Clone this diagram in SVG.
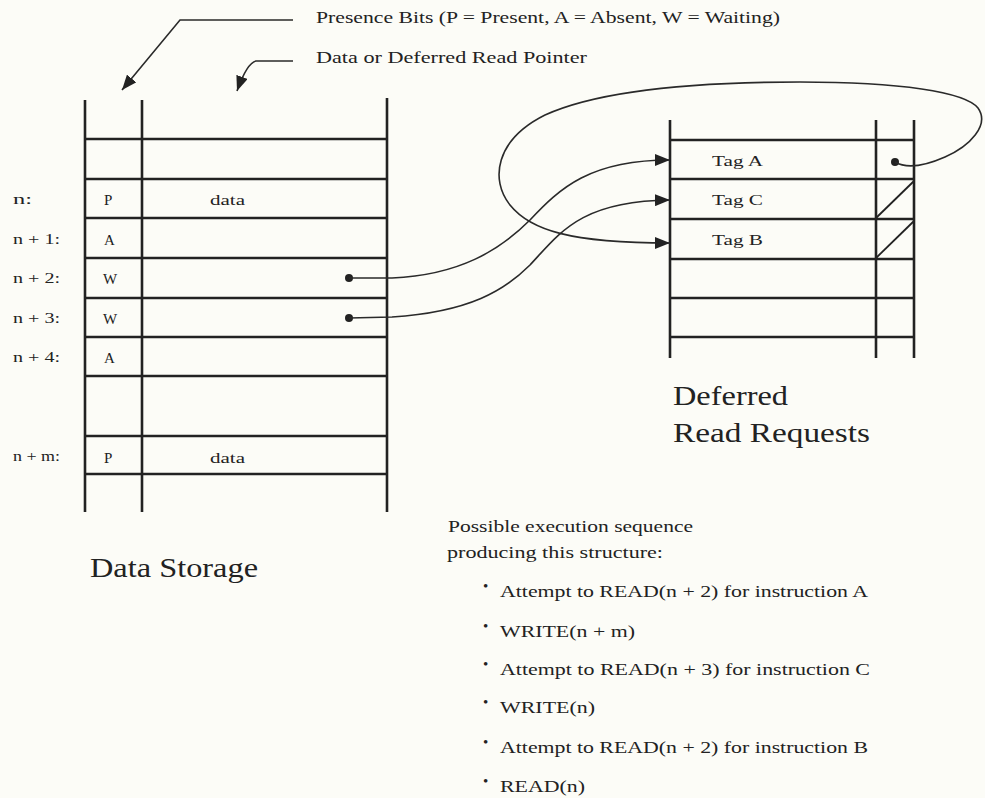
<svg xmlns="http://www.w3.org/2000/svg" width="985" height="798" viewBox="0 0 985 798">
<defs>
<style>
.bg{fill:#fcfcf7}
.tl{stroke:#222;stroke-width:2.6;fill:none;stroke-linecap:butt}
.cv{stroke:#2a2a2a;stroke-width:1.6;fill:none}
.dot{fill:#222}
text{font-family:"Liberation Serif","Times New Roman",serif;fill:#222}
.hd{font-size:17px}
.lb{font-size:15px}
.big{font-size:27px}
.it{font-size:17px}
.bul{font-size:15px}
</style>
<marker id="ah" viewBox="0 0 15 12" refX="15" refY="6" markerWidth="15" markerHeight="12" markerUnits="userSpaceOnUse" orient="auto">
<path d="M0,0 L15,6 L0,12 Z" fill="#222"/>
</marker>
</defs>
<rect class="bg" x="0" y="0" width="985" height="798"/>

<g id="legend">
<text class="hd" x="316" y="23" textLength="464" lengthAdjust="spacingAndGlyphs">Presence Bits (P = Present, A = Absent, W = Waiting)</text>
<text class="hd" x="316" y="63" textLength="271" lengthAdjust="spacingAndGlyphs">Data or Deferred Read Pointer</text>
</g>

<g id="data-storage">
<g class="tl">
<line x1="85" y1="100" x2="85" y2="512"/>
<line x1="142" y1="100" x2="142" y2="512"/>
<line x1="387" y1="98" x2="387" y2="512"/>
<line x1="85" y1="139" x2="387" y2="139"/>
<line x1="85" y1="179" x2="387" y2="179"/>
<line x1="85" y1="218" x2="387" y2="218"/>
<line x1="85" y1="258" x2="387" y2="258"/>
<line x1="85" y1="298" x2="387" y2="298"/>
<line x1="85" y1="337" x2="387" y2="337"/>
<line x1="85" y1="376" x2="387" y2="376"/>
<line x1="85" y1="436" x2="387" y2="436"/>
<line x1="85" y1="474" x2="387" y2="474"/>
</g>
<text class="lb" x="13" y="204" textLength="19" lengthAdjust="spacingAndGlyphs">n:</text>
<text class="lb" x="13" y="244" textLength="47" lengthAdjust="spacingAndGlyphs">n + 1:</text>
<text class="lb" x="13" y="283" textLength="47" lengthAdjust="spacingAndGlyphs">n + 2:</text>
<text class="lb" x="13" y="323" textLength="47" lengthAdjust="spacingAndGlyphs">n + 3:</text>
<text class="lb" x="13" y="362" textLength="47" lengthAdjust="spacingAndGlyphs">n + 4:</text>
<text class="lb" x="13" y="461" textLength="47" lengthAdjust="spacingAndGlyphs">n + m:</text>
<text class="lb" x="104" y="205">P</text>
<text class="lb" x="104" y="245">A</text>
<text class="lb" x="103" y="284">W</text>
<text class="lb" x="103" y="324">W</text>
<text class="lb" x="104" y="363">A</text>
<text class="lb" x="104" y="463">P</text>
<text class="lb" x="210" y="205" textLength="35" lengthAdjust="spacingAndGlyphs">data</text>
<text class="lb" x="210" y="463" textLength="35" lengthAdjust="spacingAndGlyphs">data</text>
<circle class="dot" cx="349" cy="278" r="4"/>
<circle class="dot" cx="349" cy="318" r="4"/>
<text class="big" x="90" y="577" textLength="168" lengthAdjust="spacingAndGlyphs">Data Storage</text>
</g>

<g id="deferred-read-requests">
<g class="tl">
<line x1="670" y1="120" x2="670" y2="358"/>
<line x1="876" y1="120" x2="876" y2="358"/>
<line x1="914" y1="120" x2="914" y2="358"/>
<line x1="670" y1="140" x2="914" y2="140"/>
<line x1="670" y1="179" x2="914" y2="179"/>
<line x1="670" y1="219" x2="914" y2="219"/>
<line x1="670" y1="259" x2="914" y2="259"/>
<line x1="670" y1="298" x2="914" y2="298"/>
<line x1="670" y1="337" x2="914" y2="337"/>
</g>
<line x1="876" y1="218" x2="914" y2="181" stroke="#222" stroke-width="1.8"/>
<line x1="876" y1="258" x2="914" y2="221" stroke="#222" stroke-width="1.8"/>
<text class="lb" x="712" y="166" textLength="51" lengthAdjust="spacingAndGlyphs">Tag A</text>
<text class="lb" x="712" y="205" textLength="51" lengthAdjust="spacingAndGlyphs">Tag C</text>
<text class="lb" x="712" y="245" textLength="51" lengthAdjust="spacingAndGlyphs">Tag B</text>
<circle class="dot" cx="895" cy="162" r="4"/>
<text class="big" x="673" y="405" textLength="115" lengthAdjust="spacingAndGlyphs">Deferred</text>
<text class="big" x="673" y="442" textLength="197" lengthAdjust="spacingAndGlyphs">Read Requests</text>
</g>

<g id="execution-sequence">
<text class="it" x="448" y="532" textLength="245" lengthAdjust="spacingAndGlyphs">Possible execution sequence</text>
<text class="it" x="447" y="558" textLength="216" lengthAdjust="spacingAndGlyphs">producing this structure:</text>
<text class="bul" x="483" y="591">•</text>
<text class="it" x="500" y="597" textLength="368" lengthAdjust="spacingAndGlyphs">Attempt to READ(n + 2) for instruction A</text>
<text class="bul" x="483" y="631">•</text>
<text class="it" x="500" y="637" textLength="135" lengthAdjust="spacingAndGlyphs">WRITE(n + m)</text>
<text class="bul" x="483" y="669">•</text>
<text class="it" x="500" y="675" textLength="370" lengthAdjust="spacingAndGlyphs">Attempt to READ(n + 3) for instruction C</text>
<text class="bul" x="483" y="707">•</text>
<text class="it" x="500" y="713" textLength="95" lengthAdjust="spacingAndGlyphs">WRITE(n)</text>
<text class="bul" x="483" y="747">•</text>
<text class="it" x="500" y="753" textLength="368" lengthAdjust="spacingAndGlyphs">Attempt to READ(n + 2) for instruction B</text>
<text class="bul" x="483" y="786">•</text>
<text class="it" x="500" y="792" textLength="85" lengthAdjust="spacingAndGlyphs">READ(n)</text>
</g>

<g id="connectors">
<path class="cv" d="M293,20 L180,20 L122,90" stroke-width="2" marker-end="url(#ah)"/>
<path class="cv" d="M293,61 L256,61 Q247,63 237,91" stroke-width="2" marker-end="url(#ah)"/>
<path class="cv" d="M349,278 L392,278 C460,275 500,250 530,220 C560,188 590,160 670,160" marker-end="url(#ah)"/>
<path class="cv" d="M349,318 L392,317 C470,312 505,290 530,265 C560,233 580,201 670,200" marker-end="url(#ah)"/>
<path class="cv" d="M895,162 C905,168 920,168 945,157 C970,146 990,125 978,108 C965,92 900,82 800,82 C700,82 600,90 545,115 C495,140 490,180 510,205 C530,230 570,243 670,243" marker-end="url(#ah)"/>
</g>
</svg>
